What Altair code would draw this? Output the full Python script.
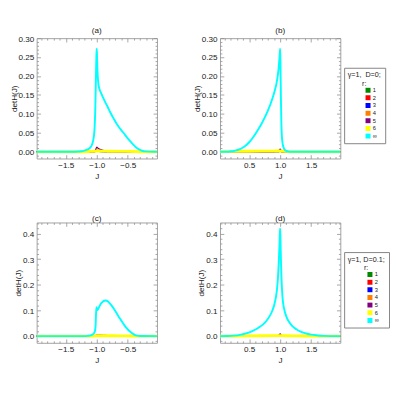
import altair as alt
import pandas as pd

FONT = "Liberation Sans"
R_LABELS = ["1", "2", "3", "4", "5", "6", "∞"]
R_COLORS = ["#008a00", "#ff0000", "#0000ff", "#ff8000", "#800080", "#ffff00", "#00ffff"]

# ---------------- panel (a): gamma=1, D=0, J<0 ----------------
a_J_inf = [-1.97, -1.4, -1.3, -1.25, -1.2, -1.15, -1.1, -1.07, -1.05, -1.035, -1.025, -1.015,
           -1.005, -1.0, -0.995, -0.985, -0.975, -0.96, -0.94, -0.91, -0.87, -0.83, -0.78,
           -0.73, -0.68, -0.63, -0.57, -0.52, -0.47, -0.42, -0.37, -0.32, -0.27, -0.22, -0.03]
a_inf = [0, 0, 0.0005, 0.001, 0.003, 0.006, 0.012, 0.022, 0.038, 0.065, 0.11, 0.19,
         0.26, 0.272, 0.24, 0.2, 0.18, 0.167, 0.158, 0.147, 0.133, 0.12, 0.103,
         0.088, 0.074, 0.062, 0.05, 0.039, 0.029, 0.02, 0.012, 0.006, 0.0025, 0.0008, 0]
a_J_small = [-1.97, -1.25, -1.1, -1.04, -1.02, -1.0, -0.98, -0.95, -0.9, -0.85, -0.8, -0.6, -0.4, -0.3, -0.03]
a_r1 = [0, 0, 0, 0, 0.0005, 0.001, 0.0008, 0.0005, 0.0002, 0, 0, 0, 0, 0, 0]
a_r2 = [0, 0, 0, 0, 0.001, 0.002, 0.0018, 0.0012, 0.0006, 0.0002, 0, 0, 0, 0, 0]
a_r3 = [0, 0, 0, 0, 0.0008, 0.0015, 0.0012, 0.0008, 0.0004, 0.0001, 0, 0, 0, 0, 0]
a_r4 = [0, 0, 0, 0, 0.002, 0.005, 0.004, 0.0025, 0.0012, 0.0004, 0, 0, 0, 0, 0]
a_r5 = [0, 0, 0, 0, 0.005, 0.012, 0.009, 0.006, 0.0035, 0.0015, 0.0004, 0, 0, 0, 0]
a_r6 = [0, 0, 0.0008, 0.0012, 0.0015, 0.0018, 0.0018, 0.0018, 0.0016, 0.0014, 0.0012, 0.0008, 0.0004, 0, 0]

# ---------------- panel (b): gamma=1, D=0, J>0 ----------------
b_J_inf = [0.03, 0.15, 0.2, 0.25, 0.3, 0.35, 0.4, 0.45, 0.5, 0.55, 0.6, 0.65, 0.7, 0.75, 0.8,
           0.84, 0.88, 0.91, 0.94, 0.96, 0.975, 0.985, 0.995, 1.0, 1.005, 1.012, 1.02, 1.03,
           1.045, 1.06, 1.08, 1.1, 1.13, 1.17, 1.97]
b_inf = [0, 0, 0.001, 0.002, 0.004, 0.007, 0.011, 0.017, 0.025, 0.035, 0.047, 0.06, 0.074, 0.09, 0.108,
         0.124, 0.143, 0.16, 0.18, 0.2, 0.22, 0.24, 0.262, 0.272, 0.23, 0.14, 0.07, 0.035,
         0.017, 0.009, 0.004, 0.002, 0.0005, 0, 0]
b_J_small = [0.03, 0.2, 0.5, 0.9, 0.96, 0.98, 1.0, 1.02, 1.04, 1.1, 1.2, 1.97]
b_r1 = [0, 0, 0, 0, 0, 0.0003, 0.0006, 0.0002, 0, 0, 0, 0]
b_r2 = [0, 0, 0, 0, 0, 0.0006, 0.0012, 0.0004, 0, 0, 0, 0]
b_r3 = [0, 0, 0, 0, 0, 0.0004, 0.0009, 0.0003, 0, 0, 0, 0]
b_r4 = [0, 0, 0, 0, 0.0005, 0.0015, 0.003, 0.001, 0, 0, 0, 0]
b_r5 = [0, 0, 0, 0.0005, 0.0015, 0.003, 0.0065, 0.002, 0.0005, 0, 0, 0]
b_r6 = [0, 0.0008, 0.0012, 0.0016, 0.0018, 0.0018, 0.0018, 0.0016, 0.0014, 0.001, 0, 0]

# ---------------- panel (c): gamma=1, D=0.1, J<0 ----------------
c_J_inf = [-1.97, -1.2, -1.15, -1.1, -1.06, -1.04, -1.03, -1.02, -1.012, -1.005, -1.0, -0.99,
           -0.98, -0.96, -0.94, -0.92, -0.9, -0.88, -0.86, -0.84, -0.82, -0.8, -0.77, -0.74,
           -0.71, -0.68, -0.65, -0.62, -0.59, -0.56, -0.53, -0.5, -0.47, -0.44, -0.41, -0.38,
           -0.35, -0.3, -0.03]
c_inf = [0, 0, 0.001, 0.003, 0.008, 0.014, 0.02, 0.04, 0.09, 0.113, 0.108, 0.102,
         0.105, 0.115, 0.124, 0.131, 0.135, 0.138, 0.139, 0.138, 0.135, 0.13, 0.122, 0.112,
         0.101, 0.089, 0.077, 0.066, 0.055, 0.044, 0.034, 0.026, 0.019, 0.013, 0.008, 0.004,
         0.002, 0.0005, 0]
c_J_small = [-1.97, -1.15, -1.05, -1.02, -1.0, -0.97, -0.93, -0.88, -0.82, -0.75, -0.6, -0.45, -0.35, -0.03]
c_r1 = [0, 0, 0, 0.0003, 0.0006, 0.0006, 0.0005, 0.0003, 0.0001, 0, 0, 0, 0, 0]
c_r2 = [0, 0, 0, 0.001, 0.003, 0.0032, 0.003, 0.0024, 0.0015, 0.0006, 0, 0, 0, 0]
c_r3 = [0, 0, 0, 0.0005, 0.001, 0.001, 0.0008, 0.0005, 0.0002, 0, 0, 0, 0, 0]
c_r4 = [0, 0, 0, 0.001, 0.002, 0.002, 0.0018, 0.0012, 0.0006, 0.0002, 0, 0, 0, 0]
c_r5 = [0, 0, 0, 0.002, 0.004, 0.0042, 0.0038, 0.003, 0.002, 0.001, 0.0002, 0, 0, 0]
c_r6 = [0, 0, 0.0008, 0.0012, 0.0015, 0.0016, 0.0017, 0.0017, 0.0016, 0.0015, 0.0012, 0.0006, 0, 0]

# ---------------- panel (d): gamma=1, D=0.1, J>0 ----------------
d_J_inf = [0.03, 0.15, 0.25, 0.35, 0.45, 0.55, 0.65, 0.72, 0.78, 0.83, 0.87, 0.9, 0.93, 0.95,
           0.965, 0.978, 0.988, 0.995, 1.0, 1.005, 1.012, 1.022, 1.035, 1.05, 1.07, 1.09, 1.12,
           1.16, 1.2, 1.26, 1.33, 1.4, 1.5, 1.6, 1.7, 1.97]
d_inf = [0, 0.0005, 0.002, 0.005, 0.011, 0.02, 0.033, 0.045, 0.06, 0.078, 0.097, 0.118, 0.15, 0.185,
         0.23, 0.29, 0.35, 0.4, 0.42, 0.38, 0.3, 0.22, 0.16, 0.125, 0.1, 0.083, 0.065,
         0.05, 0.038, 0.027, 0.018, 0.012, 0.006, 0.003, 0.001, 0]
d_J_small = [0.03, 0.25, 0.5, 0.9, 0.96, 0.98, 1.0, 1.02, 1.04, 1.1, 1.3, 1.45, 1.97]
d_r1 = [0, 0, 0, 0, 0, 0.0003, 0.0007, 0.0003, 0, 0, 0, 0, 0]
d_r2 = [0, 0, 0, 0, 0.0003, 0.001, 0.002, 0.0008, 0.0002, 0, 0, 0, 0]
d_r3 = [0, 0, 0, 0, 0, 0.0005, 0.001, 0.0004, 0, 0, 0, 0, 0]
d_r4 = [0, 0, 0, 0, 0.0008, 0.002, 0.004, 0.0015, 0.0004, 0, 0, 0, 0]
d_r5 = [0, 0, 0, 0.0005, 0.002, 0.004, 0.009, 0.003, 0.001, 0.0002, 0, 0, 0]
d_r6 = [0, 0.0006, 0.0012, 0.0018, 0.002, 0.002, 0.002, 0.002, 0.0018, 0.0015, 0.001, 0.0004, 0]

# ---------------- axes ticks ----------------
xmaj_neg = [-1.5, -1.0, -0.5]
xmin_neg = [-1.9, -1.8, -1.7, -1.6, -1.4, -1.3, -1.2, -1.1, -0.9, -0.8, -0.7, -0.6, -0.4, -0.3, -0.2, -0.1]
xmaj_pos = [0.5, 1.0, 1.5]
xmin_pos = [0.1, 0.2, 0.3, 0.4, 0.6, 0.7, 0.8, 0.9, 1.1, 1.2, 1.3, 1.4, 1.6, 1.7, 1.8, 1.9]
ymaj_top = [0.0, 0.05, 0.10, 0.15, 0.20, 0.25, 0.30]
ymin_top = [-0.01, 0.01, 0.02, 0.03, 0.04, 0.06, 0.07, 0.08, 0.09, 0.11, 0.12, 0.13, 0.14,
            0.16, 0.17, 0.18, 0.19, 0.21, 0.22, 0.23, 0.24, 0.26, 0.27, 0.28, 0.29]
ymaj_bot = [0.0, 0.1, 0.2, 0.3, 0.4]
ymin_bot = [-0.02, 0.02, 0.04, 0.06, 0.08, 0.12, 0.14, 0.16, 0.18, 0.22, 0.24, 0.26, 0.28,
            0.32, 0.34, 0.36, 0.38, 0.42, 0.44]

TICK = "#8c8c8c"
TXT = "#222222"


def axis(orient, values, size, show, fmt=None, title=None, lpad=2, tpad=2):
    kw = dict(orient=orient, values=values, tickSize=size, offset=-size, domain=False,
              grid=False, tickColor=TICK, tickWidth=0.8)
    if show:
        kw.update(labels=True, format=fmt, labelFont=FONT, labelFontSize=8.5, labelColor=TXT,
                  labelPadding=lpad, title=title, titleFont=FONT, titleFontSize=8.5,
                  titleFontWeight="normal", titleColor=TXT, titlePadding=tpad)
    else:
        kw.update(labels=False, title=None)
    return alt.Axis(**kw)


def panel(title, small_J, smalls, inf_J, inf_v, xdom, ydom, xmaj, xmin, ymaj, ymin, yfmt, legend_title):
    rows = []
    for r, vals in zip(R_LABELS[:5], smalls[:5]):
        rows += [{"r": r, "J": j, "v": v} for j, v in zip(small_J, vals)]
    df_small = pd.DataFrame(rows)
    df_y = pd.DataFrame({"r": "6", "J": small_J, "v": smalls[5]})
    df_inf = pd.DataFrame({"r": "∞", "J": inf_J, "v": inf_v})

    cscale = alt.Scale(domain=R_LABELS, range=R_COLORS)
    if legend_title:
        legend = alt.Legend(
            title=legend_title, orient="none", legendX=130, legendY=31, offset=0,
            strokeColor="#808080", fillColor="white", padding=4,
            titleFont=FONT, titleFontSize=7.5, titleFontWeight="normal", titleColor=TXT,
            titleAnchor="middle", titleAlign="center", titleLineHeight=9, titlePadding=0,
            labelFont=FONT, labelFontSize=6, labelColor=TXT, labelOffset=2,
            symbolType="square", symbolSize=5, symbolStrokeWidth=3, symbolOffset=15,
            clipHeight=6, rowPadding=2)
    else:
        legend = None
    color = alt.Color("r:N", scale=cscale, legend=legend)
    xs = alt.Scale(domain=xdom, nice=False, zero=False)
    ys = alt.Scale(domain=ydom, nice=False, zero=False)

    l1 = alt.Chart(df_small).mark_line(strokeWidth=1.3, interpolate="monotone").encode(
        x=alt.X("J:Q", scale=xs, axis=axis("bottom", xmaj, 4, True, ".1f", "J", 2, 3)),
        y=alt.Y("v:Q", scale=ys, axis=axis("left", ymaj, 4, True, yfmt, "detH(J)", 3, 0)),
        color=color)
    l2 = alt.Chart(df_y).mark_line(strokeWidth=3, interpolate="monotone").encode(
        x=alt.X("J:Q", scale=xs, axis=axis("bottom", xmin, 2, False)),
        y=alt.Y("v:Q", scale=ys, axis=axis("left", ymin, 2, False)),
        color=color)
    l3 = alt.Chart(df_inf).mark_line(strokeWidth=2, interpolate="monotone").encode(
        x=alt.X("J:Q", scale=xs, axis=axis("top", xmaj, 4, False)),
        y=alt.Y("v:Q", scale=ys, axis=axis("right", ymaj, 4, False)),
        color=color)
    l4 = alt.Chart(df_inf).mark_line(strokeOpacity=0).encode(
        x=alt.X("J:Q", scale=xs, axis=axis("top", xmin, 2, False)),
        y=alt.Y("v:Q", scale=ys, axis=axis("right", ymin, 2, False)))
    return alt.layer(l1, l2, l3, l4).resolve_axis(x="independent", y="independent").properties(
        width=126, height=126,
        title=alt.TitleParams(text=title, font=FONT, fontSize=8.5, fontWeight="normal",
                              color=TXT, offset=0))


pa = panel("(a)", a_J_small, [a_r1, a_r2, a_r3, a_r4, a_r5, a_r6], a_J_inf, a_inf,
           [-1.97, -0.03], [-0.018, 0.30], xmaj_neg, xmin_neg, ymaj_top, ymin_top, ".2f", None)
pb = panel("(b)", b_J_small, [b_r1, b_r2, b_r3, b_r4, b_r5, b_r6], b_J_inf, b_inf,
           [0.03, 1.97], [-0.018, 0.30], xmaj_pos, xmin_pos, ymaj_top, ymin_top, ".2f",
           ["γ=1,\u00a0\u00a0D=0;", "r:"])
pc = panel("(c)", c_J_small, [c_r1, c_r2, c_r3, c_r4, c_r5, c_r6], c_J_inf, c_inf,
           [-1.97, -0.03], [-0.026, 0.443], xmaj_neg, xmin_neg, ymaj_bot, ymin_bot, ".1f", None)
pd_ = panel("(d)", d_J_small, [d_r1, d_r2, d_r3, d_r4, d_r5, d_r6], d_J_inf, d_inf,
            [0.03, 1.97], [-0.026, 0.443], xmaj_pos, xmin_pos, ymaj_bot, ymin_bot, ".1f",
            ["γ=1, D=0.1;", "r:"])

chart = alt.concat(pa, pb, pc, pd_, columns=2, spacing={"row": 34, "column": 29}).resolve_scale(
    color="independent").properties(
    padding={"left": 0, "top": 10, "right": 0, "bottom": 0}).configure_view(
    stroke="#a0a0a0", strokeWidth=1)

chart.save("out.html", embed_options={"renderer": "svg", "actions": False})
